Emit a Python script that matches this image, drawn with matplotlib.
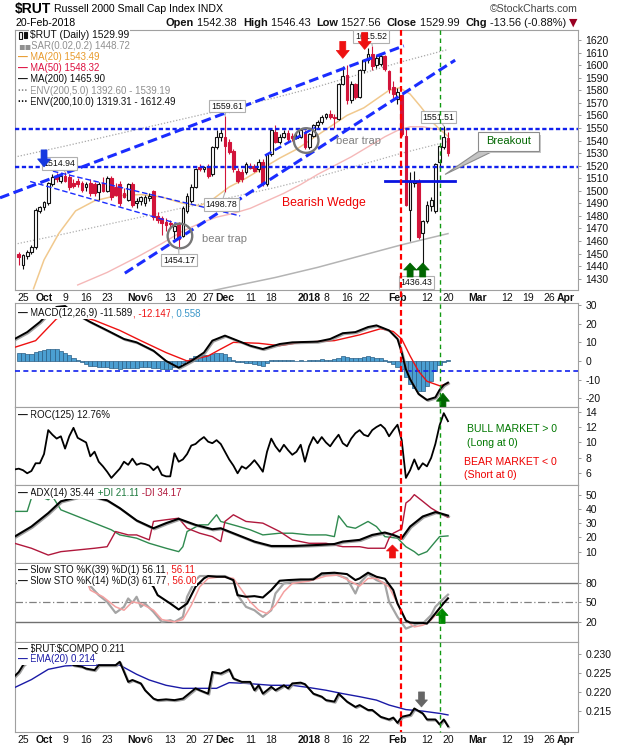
import matplotlib
matplotlib.use("Agg")
import numpy as np
import matplotlib.pyplot as plt
import matplotlib.transforms as mtransforms
import matplotlib.patheffects as pe
from matplotlib.patches import Rectangle, Polygon, Circle
from matplotlib.text import Annotation
from matplotlib.lines import Line2D

plt.rcParams['font.family'] = ['Liberation Sans', 'DejaVu Sans']

# ---------------- data (x = trading-day index, 0 = 25-Sep-2017) ----------------
opens = [1449.5, 1441, 1448, 1451, 1455, 1484, 1487, 1490, 1505, 1512, 1508, 1512, 1511, 1506, 1508, 1506,
         1503, 1506, 1505, 1499, 1506, 1500, 1510, 1503, 1505, 1498, 1493, 1505, 1490, 1492, 1490, 1494,
         1500, 1480, 1478, 1475, 1474, 1468, 1474, 1464, 1484, 1492, 1503, 1519, 1517, 1519, 1513, 1535,
         1543, 1543, 1539, 1532, 1516, 1515, 1515, 1520, 1520, 1517, 1523, 1505, 1529, 1547, 1539, 1543,
         1546, 1544, 1542, 1543, 1546, 1535, 1544, 1552, 1555, 1559, 1561, 1559, 1557, 1585, 1592, 1572,
         1585, 1575, 1596, 1604, 1609, 1600, 1601, 1607, 1595, 1583, 1573, 1576, 1544, 1485, 1506, 1507,
         1466, 1476, 1488, 1484, 1523, 1535, 1542.38]
highs = [1451, 1450, 1453, 1457, 1486, 1488, 1492, 1507, 1513, 1514, 1513, 1514.94, 1513, 1509, 1510, 1508,
         1507, 1509, 1507, 1507, 1511, 1512, 1512, 1506, 1508, 1502, 1506, 1507, 1494, 1496, 1497, 1498,
         1501, 1483, 1480, 1478, 1477, 1474, 1475, 1488, 1498, 1505, 1518, 1521, 1520, 1521, 1536, 1548,
         1549, 1559.61, 1541, 1533, 1518, 1517, 1523, 1522, 1521, 1525, 1525, 1530, 1550, 1552, 1545, 1548,
         1548, 1546, 1546, 1549, 1548, 1546, 1553, 1556, 1560, 1562, 1564, 1561, 1586, 1599, 1600, 1587,
         1586, 1597, 1605, 1614, 1615.52, 1608, 1609, 1608, 1596, 1587, 1582, 1577, 1549, 1515, 1516, 1509,
         1477, 1492, 1495, 1522, 1537, 1551.51, 1546.43]
lows = [1441, 1438, 1446, 1450, 1454, 1482, 1485, 1489, 1504, 1507, 1506, 1507, 1501, 1502, 1503, 1499,
        1500, 1496, 1496, 1493, 1499, 1499, 1493, 1496, 1488, 1494, 1492, 1487, 1486, 1489, 1488, 1492,
        1477, 1474, 1465, 1468, 1470, 1462, 1454.17, 1463, 1482, 1490, 1502, 1516, 1515, 1510, 1512, 1533,
        1540, 1498.78, 1529, 1515, 1506, 1507, 1513, 1517, 1515, 1515, 1504, 1504, 1528, 1538, 1537, 1542,
        1539, 1540, 1541, 1542, 1533, 1533, 1543, 1550, 1553, 1557, 1557, 1550, 1556, 1584, 1569, 1570,
        1573, 1574, 1594, 1602, 1596, 1598, 1599, 1595, 1578, 1574, 1569, 1544, 1488, 1460, 1503, 1462,
        1436.43, 1474, 1484, 1482, 1519, 1533, 1527.56]
closes = [1447.5, 1449, 1451, 1455, 1485, 1487, 1491, 1506, 1511, 1509, 1512, 1508, 1503, 1504, 1505, 1501,
          1505, 1498, 1498, 1505, 1500, 1510, 1495, 1497, 1490, 1495, 1505, 1489, 1492, 1495, 1495, 1496,
          1479, 1477, 1474, 1473, 1473.5, 1472, 1462, 1486, 1496, 1503, 1517, 1517.5, 1519, 1512, 1535, 1543,
          1546, 1536, 1531, 1517, 1508, 1509, 1521, 1518, 1516, 1523, 1505, 1529, 1548, 1539, 1543, 1546,
          1541, 1542, 1544, 1548, 1535, 1545, 1552, 1555, 1559, 1561, 1559, 1558, 1585, 1591, 1572, 1585,
          1575, 1596, 1604, 1609, 1599, 1606, 1607, 1597, 1581, 1577, 1579, 1545, 1489, 1507, 1508, 1463,
          1476, 1489, 1493, 1521, 1536, 1543, 1529.99]
first_day = -1

ma20_x = [2.5, 5, 8.5, 12.5, 17, 22, 28, 33, 38, 42, 45, 49, 53, 57, 61, 65, 69, 73, 77, 81, 84, 87, 89.5, 92, 94.5, 97.5, 99, 101]
ma20_y = [1422, 1445, 1466, 1484, 1492, 1496, 1497, 1495, 1490, 1488, 1493, 1503, 1510, 1518, 1526, 1533, 1542, 1551,
          1560, 1566, 1573, 1580, 1582, 1577, 1567, 1554, 1549, 1543.49]
ma50_x = [13, 20, 27, 33, 38, 42, 46, 50, 54, 58, 62, 66, 70, 74, 78, 82, 86, 89, 92, 95, 98, 101]
ma50_y = [1425, 1435, 1447, 1458, 1468, 1474, 1479, 1482, 1486, 1492, 1498, 1505, 1513, 1520, 1527, 1535, 1543,
          1548, 1551, 1551, 1549, 1548.32]
ma200_x = [-2, 10, 20, 30, 40, 50, 60, 70, 80, 90, 101]
ma200_y = [1388, 1396, 1403, 1410, 1417, 1424, 1431, 1439, 1448, 1457, 1465.9]
env5_up = [1457.4, 1465.8, 1473.2, 1480.5, 1487.9, 1495.2, 1502.6, 1511.0, 1520.4, 1529.9, 1539.19]
env10_up = [1526.8, 1535.6, 1543.3, 1551.0, 1558.7, 1566.4, 1574.1, 1582.9, 1592.8, 1602.7, 1612.49]

macd_x = [-2, 1, 4, 6, 8, 10, 12, 16, 20, 24, 27, 31, 34, 37, 40, 43, 45, 48, 51, 54, 57, 61, 64, 70, 73, 76,
          79, 82, 84, 87, 89, 90, 91, 92, 94, 96, 98, 99, 100, 101]
macd_y = [11.8, 15.5, 20.9, 25.5, 29.0, 29.5, 26.0, 20.9, 16.4, 11.8, 10.0, 5.5, 0.0, -3.6, 0.0, 4.5, 10.9, 13.6,
          10.9, 8.2, 6.4, 9.1, 10.0, 10.4, 11.8, 14.9, 15.5, 18.2, 19.1, 16.4, 11.8, 4.5, -4.5, -9.8, -17.7,
          -20.9, -19.5, -15.5, -12.9, -11.589]
sig_x = [-2, 3, 8, 12, 17, 23, 28, 34, 39, 44, 47, 50, 56, 61, 66, 74, 80, 85, 88, 90, 92, 94, 96, 99, 100, 101]
sig_y = [7.3, 10.9, 22.7, 24.9, 21.8, 16.4, 10.9, 4.5, 0.0, 2.7, 6.4, 10.0, 9.5, 8.2, 10.0, 10.9, 14.0, 17.3,
         15.8, 11.8, 2.7, -5.5, -10.9, -13.3, -12.8, -12.147]
hist = [4.5, 4.3, 4.0, 3.8, 5.0, 5.5, 6.0, 6.5, 6.6, 6.3, 5.5, 4.5, 3.0, 1.5, 0.5, -0.5, -1.5, -2.5, -2.8, -3.0,
        -3.2, -3.5, -3.8, -4.0, -4.2, -4.0, -3.8, -4.0, -3.8, -3.5, -3.5, -3.2, -3.8, -4.0, -4.2, -4.3, -4.2,
        -3.5, -3.0, -1.0, 0.5, 1.5, 2.5, 3.0, 3.2, 3.0, 3.8, 4.3, 4.5, 3.5, 2.0, 0.5, -0.5, -0.8, -1.0, -1.2,
        -1.5, -2.0, -2.7, -1.2, 0.3, 0.5, 0.5, 0.7, 0.5, 0.3, 0.2, 0.5, 0.2, 0.4, 0.6, 0.6, 0.8, 0.7, 0.5, 0.8,
        1.8, 2.5, 2.0, 1.8, 1.5, 1.8, 2.2, 2.5, 2.0, 1.8, 1.5, 0.5, -0.5, -1.5, -3.0, -4.5, -8.5, -12.5, -14.5,
        -16.3, -16.3, -13.6, -10.9, -5.5, -2.0, -0.3, 0.558]
macd_trigger = -5.4

roc = [6.5, 6.6, 6.4, 6.0, 6.3, 7.3, 7.3, 8.5, 11.6, 11.0, 10.5, 10.8, 9.2, 10.8, 11.9, 10.6, 10.3, 10.0, 8.2,
       8.8, 7.5, 6.9, 6.2, 5.4, 6.0, 6.6, 7.5, 7.1, 7.9, 7.1, 7.3, 7.2, 7.0, 6.4, 6.9, 5.8, 5.6, 5.6, 8.6, 7.5,
       7.8, 8.5, 9.6, 9.8, 10.3, 10.7, 10.1, 9.9, 10.3, 9.8, 8.8, 7.8, 7.0, 6.0, 6.9, 6.6, 7.1, 7.7, 7.0, 6.2,
       8.8, 10.5, 9.5, 8.8, 9.7, 9.0, 8.4, 8.8, 9.7, 7.5, 9.5, 10.7, 9.9, 10.7, 10.0, 9.5, 10.3, 11.0, 9.9, 9.5,
       10.5, 11.2, 11.6, 11.0, 10.8, 11.6, 12.0, 12.3, 11.8, 10.8, 11.6, 12.3, 10.3, 5.4, 6.4, 7.8, 6.5, 7.3,
       6.9, 8.0, 9.8, 12.2, 13.8, 12.76]
roc_first = -2

adx_x = [-2, 2, 6, 9, 13, 17, 20, 23, 27, 31, 34, 37, 41, 45, 47, 51, 55, 59, 64, 70, 74, 76, 80, 83, 86, 88,
         90, 92, 95, 98, 99, 101]
adx_y = [20.6, 27.7, 37.2, 45.5, 48.5, 48.5, 46.2, 40.7, 32.0, 26.5, 30.1, 33.2, 28.9, 25.8, 26.5, 21.8, 17.1,
         14.0, 14.0, 14.7, 15.4, 17.1, 18.3, 21.8, 23.5, 21.8, 19.5, 27.7, 34.8, 37.9, 37.2, 35.44]
pdi_x = [-2, 1, 2, 5, 6, 7, 9, 13, 17, 21, 23, 27, 30, 34, 37, 38, 39, 42, 44, 45, 46, 47, 51, 54, 57, 61, 64,
         68, 72, 74, 75, 77, 79, 82, 84, 86, 89, 91, 93, 94, 96, 98, 99, 101]
pdi_y = [38.4, 38.4, 47.8, 47.8, 46.6, 49.0, 39.5, 34.8, 30.1, 25.4, 21.8, 19.5, 15.9, 12.4, 10.0, 13.5, 24.2,
         28.9, 28.9, 32.5, 36.0, 31.3, 28.0, 25.4, 21.8, 23.0, 23.0, 21.8, 21.8, 20.6, 35.3, 27.7, 26.5, 31.3,
         27.7, 20.6, 19.5, 13.5, 10.0, 7.6, 10.0, 17.1, 20.6, 21.11]
mdi_x = [-2, 2, 6, 9, 13, 17, 20, 22, 25, 27, 30, 31, 34, 37, 39, 42, 45, 47, 48, 50, 53, 57, 61, 64, 68, 72,
         76, 80, 82, 86, 87, 88, 89, 90, 91, 92, 93, 95, 97, 99, 101]
mdi_y = [15.9, 12.4, 7.6, 10.0, 11.2, 12.4, 13.5, 24.2, 21.8, 21.8, 18.3, 31.3, 32.5, 33.6, 26.5, 23.0, 20.6,
         17.1, 31.3, 36.0, 31.3, 30.1, 24.2, 18.3, 15.9, 15.9, 13.5, 13.5, 12.4, 12.4, 19.5, 23.0, 24.5, 26.0,
         44.3, 46.6, 50.2, 45.5, 40.7, 37.2, 34.17]

k39_x = [29, 31, 32, 35, 37, 39, 41, 43, 44, 46, 48, 50, 51, 53, 55, 57, 59, 61, 63, 66, 69, 71, 74, 77, 79, 80,
         82, 84, 86, 88, 89, 90, 91, 92, 93, 95, 96, 97, 98, 99, 100, 101]
k39_y = [88, 73.8, 61, 48.2, 39, 48.2, 73.8, 86.7, 90.3, 89.2, 89.2, 84.1, 61, 58.5, 59.5, 57.4, 68.7, 83.1,
         84.1, 85.1, 85.1, 94.4, 95.4, 93.3, 84.1, 86.7, 95.4, 89.2, 86.2, 68.7, 48.2, 35.4, 22, 19, 18.5, 18.5,
         17.4, 25, 33, 41, 49, 56.11]
k14_x = [15, 16, 18, 20, 22, 24, 25, 26, 27, 28, 29, 31, 33, 35, 36, 38, 39, 41, 42, 44, 48, 50, 51, 53, 55, 57,
         59, 60, 62, 64, 68, 71, 74, 77, 79, 80, 82, 84, 86, 87, 89, 91, 92, 94, 95, 97, 98, 100, 101]
k14_y = [90, 74.9, 61, 50.8, 33.8, 43.1, 55.9, 49.2, 58.5, 43.1, 48.2, 35.4, 20, 22.6, 20, 27.7, 58.5, 84.1,
         90.3, 90.3, 90.3, 84.1, 61, 43.1, 37.9, 27.7, 37.9, 63.6, 79, 81.5, 84.1, 91.8, 93.3, 86.7, 63.6, 79,
         93.3, 84.1, 79, 50.8, 27.7, 9.7, 12.3, 17.4, 17.4, 30.3, 43.1, 55.9, 61.77]
d3_x = [15, 16, 19, 22, 24, 26, 28, 31, 33, 36, 38, 40, 42, 44, 47, 50, 52, 54, 56, 58, 60, 62, 64, 68, 72, 75,
        78, 80, 82, 84, 87, 89, 91, 93, 95, 96, 97, 98, 99, 100, 101]
d3_y = [85, 68.7, 58.5, 43.1, 37.9, 50.8, 48.2, 38, 23.6, 20, 23.6, 45.6, 73.8, 86.7, 89.2, 86.7, 68.7, 50.8,
        38, 32.8, 45.6, 66.2, 79, 82.6, 90.3, 91.8, 81.5, 74.9, 86.7, 86.7, 73.8, 48.2, 22.6, 12.3, 14.9, 18,
        23, 30, 40, 49, 56.0]

ratio_x = [-2, -1, 0, 2, 6, 10, 12, 14, 15, 17, 18, 19, 22, 23, 25, 26, 28, 29, 31, 32, 34, 36, 38, 39, 41, 42,
           44, 45, 47, 49, 50, 52, 54, 55, 56, 57, 59, 60, 62, 63, 64, 66, 67, 69, 71, 72, 74, 75, 77, 79, 80,
           82, 83, 85, 87, 88, 89, 90, 92, 93, 95, 96, 98, 99, 100, 101]
ratio_y = [.2242, .2253, .2271, .2290, .2295, .2288, .2271, .2267, .2262, .2258, .2271, .2271, .2271, .2280,
           .2227, .2232, .2223, .2205, .2183, .2179, .2181, .2179, .2183, .2192, .2210, .2205, .2196, .2253,
           .2249, .2260, .2236, .2227, .2227, .2205, .2218, .2196, .2214, .2205, .2218, .2210, .2223, .2225,
           .2221, .2196, .2188, .2179, .2175, .2196, .2175, .2161, .2166, .2153, .2153, .2135, .2128, .2133,
           .2119, .2135, .2140, .2157, .2144, .2128, .2128, .2115, .2128, .2110]
ema_x = [-2, 2, 6, 10, 14, 19, 23, 27, 30, 34, 38, 42, 46, 49, 53, 59, 64, 68, 72, 76, 80, 84, 87, 91, 95, 99, 101]
ema_y = [.2212, .2233, .2260, .2269, .2271, .2271, .2271, .2247, .2232, .2218, .2210, .2210, .2210, .2225, .2223,
         .2218, .2218, .2212, .2205, .2196, .2188, .2179, .2166, .2154, .2150, .2144, .2140]

tick_pos = [0, 5, 10, 15, 20, 27, 30, 35, 40, 44, 48, 54, 59, 68, 72, 77, 81, 89, 96, 101, 108, 115, 120, 125, 129]
tick_lab = ["25", "Oct", "9", "16", "23", "Nov", "6", "13", "20", "27", "Dec", "11", "18", "2018", "8", "16",
            "22", "Feb", "12", "20", "Mar", "12", "19", "26", "Apr"]
month_labels = ["Oct", "Nov", "Dec", "2018", "Feb", "Mar", "Apr"]

red_day, green_day = 89.8, 99.0
res_level, sup_level, neck_level = 1549, 1519, 1508

# ---------------- figure ----------------
W, H = 620, 750
fig = plt.figure(figsize=(W / 100, H / 100), dpi=100)
fig.patch.set_facecolor('white')
XL = (-1.9, 131.9)
BLUE = '#1a2cff'
RED_C = '#d2143a'


def make_ax(top, bottom, ylim, yticks, fmt='%d'):
    ax = fig.add_axes([15 / W, 1 - bottom / H, 563 / W, (bottom - top) / H])
    ax.set_xlim(*XL)
    ax.set_ylim(*ylim)
    ax.yaxis.tick_right()
    ax.set_yticks(yticks)
    ax.set_yticklabels([fmt % v for v in yticks])
    ax.tick_params(axis='y', length=2.5, width=0.6, color='#888888', pad=3, labelsize=7.5,
                   labelcolor='#111111')
    ax.set_xticks(tick_pos)
    ax.set_xticklabels([])
    ax.tick_params(axis='x', length=0)
    for s in ax.spines.values():
        s.set_color('#a0a0a0')
        s.set_linewidth(0.8)
    return ax


def set_dates(ax):
    ax.set_xticklabels(tick_lab)
    ax.tick_params(axis='x', labelsize=7.5, pad=2, labelcolor='#111111')
    for t, lab in zip(ax.get_xticklabels(), tick_lab):
        t.set_fontweight('bold' if lab in month_labels else 'normal')


def chain(x, y, parts, fs=7.0, bg=None, z=30):
    prev = None
    for p in parts:
        s, col = p[0], p[1]
        wt = p[2] if len(p) > 2 else 'normal'
        kw = dict(fontsize=fs, color=col, fontweight=wt, zorder=z)
        if len(p) > 3:
            kw['family'] = p[3]
        if bg:
            kw['bbox'] = dict(boxstyle='square,pad=0.06', fc=bg, ec='none')
        if prev is None:
            prev = fig.text(x / W, 1 - y / H, s, ha='left', va='center', **kw)
        else:
            a = Annotation(s, xy=(1, 0), xycoords=prev, ha='left', va='bottom', **kw)
            fig.add_artist(a)
            prev = a
    return prev


def block_arrow(ax, x, y, up, color, w=13, h=17, shaft=6, head=8):
    s = 1 if up else -1
    v = np.array([(0, 0), (-w / 2, -s * head), (-shaft / 2, -s * head), (-shaft / 2, -s * h),
                  (shaft / 2, -s * h), (shaft / 2, -s * head), (w / 2, -s * head)]) / 100.0
    tr = fig.dpi_scale_trans + mtransforms.ScaledTranslation(x, y, ax.transData)
    ax.add_patch(Polygon(v, closed=True, fc=color, ec=color, lw=0.5, transform=tr, zorder=12, clip_on=False))


def circle(ax, x, y, r_px, color='#777777'):
    tr = fig.dpi_scale_trans + mtransforms.ScaledTranslation(x, y, ax.transData)
    ax.add_patch(Circle((0, 0), r_px / 100.0, fill=False, ec=color, lw=1.7, transform=tr, zorder=7))


def price_box(ax, x, y, txt, px, py):
    ax.annotate(txt, xy=(px, py), xytext=(x, y), fontsize=6.3, ha='center', va='center', color='#111111',
                bbox=dict(boxstyle='square,pad=0.2', fc='white', ec='#b0b0b0', lw=0.8),
                arrowprops=dict(arrowstyle='-', color='#b0b0b0', lw=0.8, shrinkA=0, shrinkB=0), zorder=9)


shadow = [pe.SimpleLineShadow(offset=(0.8, -0.8), shadow_color='#8a8a8a', alpha=0.8), pe.Normal()]

# ---------------- main price panel ----------------
axm = make_ax(30, 290, (1421, 1628), list(range(1430, 1621, 10)))
set_dates(axm)
days = np.arange(first_day, first_day + len(closes))

axm.plot(ma200_x, env10_up, color='#a8a8a8', lw=0.9, ls=(0, (1, 1.5)), zorder=2)
axm.plot(ma200_x, env5_up, color='#b0b0b0', lw=0.9, ls=(0, (1, 1.5)), zorder=2)
axm.plot(ma200_x, ma200_y, color='#b4b4b4', lw=1.1, zorder=2)
axm.plot(ma50_x, ma50_y, color='#f5b8b8', lw=1.0, zorder=2)
axm.plot(ma20_x, ma20_y, color='#f1c98e', lw=1.1, zorder=2)

for d, o, h, l, c in zip(days, opens, highs, lows, closes):
    up = c >= o
    col = '#111111' if up else RED_C
    axm.vlines(d, l, h, color=col, lw=0.8, zorder=3)
    lo, hi = min(o, c), max(o, c)
    axm.add_patch(Rectangle((d - 0.33, lo), 0.66, max(hi - lo, 0.5), fc='white' if up else RED_C,
                            ec=col, lw=0.8, zorder=4))

# trend lines
axm.axhline(res_level, color='#1020ee', lw=1.7, dashes=(1.8, 1.1), zorder=5)
axm.axhline(sup_level, color='#1020ee', lw=1.7, dashes=(1.8, 1.1), zorder=5)
axm.plot([-5.46, 90.5], [1494.4, 1615.4], color=BLUE, lw=2.2, dashes=(3.2, 1.5), zorder=5, clip_on=False)
axm.plot([24.2, 102.7], [1434.4, 1604], color=BLUE, lw=2.2, dashes=(3.2, 1.5), zorder=5)
axm.plot([57.5, 69.4], [1528, 1550.4], color=BLUE, lw=1.8, dashes=(3, 1.5), zorder=5)
axm.plot([7.1, 51.6], [1515.6, 1480], color=BLUE, lw=1.0, dashes=(4, 2), zorder=5)
axm.plot([1.7, 36.8], [1507.4, 1473.8], color=BLUE, lw=1.0, dashes=(4, 2), zorder=5)
axm.plot([86.0, 102.7], [neck_level, neck_level], color='#0a14e0', lw=2.0, zorder=5)

circle(axm, 37.3, 1464, 12.3)
circle(axm, 67.3, 1540, 12.3)
axm.text(42.6, 1461.6, 'bear trap', fontsize=8, color='#808080', va='center', ha='left', zorder=6)
axm.text(74.3, 1539.5, 'bear trap', fontsize=8, color='#808080', va='center', ha='left', zorder=6)
axm.text(71.5, 1490.6, 'Bearish Wedge', fontsize=8.8, color='#ee0000', va='center', ha='center', zorder=6)

price_box(axm, 8.7, 1521.6, '1514.94', 10, 1514.94)
price_box(axm, 48.5, 1567.4, '1559.61', 48, 1559.61)
price_box(axm, 47.1, 1489.2, '1498.78', 48, 1498.78)
price_box(axm, 37.1, 1444.8, '1454.17', 37, 1454.17)
price_box(axm, 82.7, 1623.0, '1615.52', 83, 1615.52)
price_box(axm, 98.7, 1558.6, '1551.51', 100, 1551.51)
price_box(axm, 93.5, 1427.0, '1436.43', 95, 1436.43)

block_arrow(axm, 5, 1519, False, '#1438e0', w=13, h=17, shaft=6, head=8)
block_arrow(axm, 76, 1605.4, False, '#ee1111', w=13, h=17, shaft=6, head=8)
block_arrow(axm, 81.2, 1612.5, False, '#ee1111', w=13, h=17, shaft=6, head=8)
block_arrow(axm, 92, 1442.5, True, '#006600', w=13, h=14, shaft=6, head=7)
block_arrow(axm, 95, 1442.5, True, '#006600', w=13, h=14, shaft=6, head=7)

# Breakout callout (box drawn as patches, text on top)
bx0, bx1, by0, by1 = 108.2, 122.6, 1532.0, 1546.6
axm.add_patch(Polygon([(100.3, 1513), (108.6, by0), (112.0, by0)], closed=True, fc='#c4c4c4',
                      ec='#8c8c8c', lw=0.8, zorder=8))
axm.add_patch(Rectangle((bx0 + 0.55, by0 - 2.0), bx1 - bx0, by1 - by0, fc='#c8c8c8', ec='none', zorder=8))
axm.add_patch(Rectangle((bx0, by0), bx1 - bx0, by1 - by0, fc='white', ec='#8c8c8c', lw=0.8, zorder=9))
axm.text((bx0 + bx1) / 2, (by0 + by1) / 2, 'Breakout', fontsize=8, color='#006600', ha='center',
         va='center', zorder=10)

# ---------------- MACD ----------------
axd = make_ax(303, 407, (-24.7, 31.1), [30, 20, 10, 0, -10, -20])
hdays = np.arange(first_day, first_day + len(hist))
axd.bar(hdays, hist, width=1.0, color='#4b9fd2', edgecolor='#2a5f85', lw=0.5, zorder=2)
axd.axhline(macd_trigger, color='#1020ee', lw=1.2, dashes=(3, 2), zorder=3)
axd.plot(sig_x, sig_y, color='#ee1111', lw=1.0, zorder=4)
axd.plot(macd_x, macd_y, color='black', lw=1.4, zorder=5, path_effects=shadow)
block_arrow(axd, 99.8, -17.3, True, '#006600', w=13, h=16, shaft=6, head=8)

# ---------------- ROC ----------------
axr = make_ax(407, 485, (4.48, 14.6), [14, 12, 10, 8, 6])
rdays = np.arange(roc_first, roc_first + len(roc))
axr.plot(rdays, roc, color='black', lw=1.3, zorder=4)

# ---------------- ADX ----------------
axa = make_ax(485, 563, (2, 57), [50, 40, 30, 20, 10])
axa.plot(pdi_x, pdi_y, color='#2f8a4f', lw=1.0, zorder=3)
axa.plot(mdi_x, mdi_y, color='#b0183c', lw=1.0, zorder=3)
axa.plot(adx_x, adx_y, color='black', lw=1.5, zorder=4, path_effects=shadow)
block_arrow(axa, 87.8, 14.7, True, '#ee1111', w=12, h=13, shaft=6, head=6)

# ---------------- Slow Stochastics ----------------
axs = make_ax(563, 642, (-10.8, 110.3), [80, 50, 20])
axs.axhline(80, color='#707070', lw=1.0, zorder=1)
axs.axhline(20, color='#707070', lw=1.0, zorder=1)
axs.axhline(50, color='#808080', lw=0.9, ls=(0, (6, 2, 1, 2)), zorder=1)
axs.plot(k14_x, k14_y, color='#a4a4a4', lw=1.6, zorder=3)
axs.plot(d3_x, d3_y, color='#f4a0a0', lw=1.1, zorder=3)
axs.plot(k39_x, k39_y, color='black', lw=1.5, zorder=4)
block_arrow(axs, 99.6, 40.5, True, '#008800', w=12, h=15, shaft=6, head=7)

# ---------------- $RUT:$COMPQ ----------------
axq = make_ax(642, 732, (0.2095, 0.2332), [0.230, 0.225, 0.220, 0.215], fmt='%.3f')
set_dates(axq)
axq.plot(ema_x, ema_y, color='#1a1aa6', lw=1.0, zorder=3)
axq.plot(ratio_x, ratio_y, color='black', lw=1.4, zorder=4, path_effects=shadow)
block_arrow(axq, 94.7, 0.2161, False, '#666666', w=12, h=15, shaft=6, head=7)

# vertical marker lines spanning all panels
for day, col, lw, dsh in [(red_day, '#ff0000', 1.6, (2.6, 1.6)), (green_day, '#119911', 1.0, (3.2, 2.6))]:
    xf = axm.transData.transform((day, 1500))[0] / W
    fig.add_artist(Line2D([xf, xf], [1 - 30 / H, 1 - 732 / H], transform=fig.transFigure, color=col,
                          lw=lw, dashes=dsh, zorder=2.5))

# ---------------- texts ----------------
fig.text(15 / W, 1 - 9 / H, '\\$RUT', fontsize=10, fontweight='bold', va='center', ha='left')
fig.text(54 / W, 1 - 9.5 / H, 'Russell 2000 Small Cap Index INDX', fontsize=7.6, va='center', ha='left')
fig.text(578 / W, 1 - 9.5 / H, '©StockCharts.com', fontsize=7.6, va='center', ha='right', color='#444444')
fig.text(16 / W, 1 - 22.5 / H, '20-Feb-2018', fontsize=7.6, va='center', ha='left')
chain(166, 22.5, [('Open', '#111111', 'bold'), (' 1542.38  ', '#111111'), ('High', '#111111', 'bold'),
                  (' 1546.43  ', '#111111'), ('Low', '#111111', 'bold'), (' 1527.56  ', '#111111'),
                  ('Close', '#111111', 'bold'), (' 1529.99  ', '#111111'), ('Chg', '#111111', 'bold'),
                  (' -13.56 (-0.88%) ', '#111111'), ('▼', '#990022', 'normal', 'DejaVu Sans')], fs=7.9)

# main legend
fig.add_artist(Rectangle((19, H - 39), 3, 7, transform=mtransforms.IdentityTransform(), fc='white',
                         ec='#111111', lw=0.8, zorder=30))
fig.add_artist(Rectangle((24, H - 38), 3, 6, transform=mtransforms.IdentityTransform(), fc='#111111',
                         ec='#111111', lw=0.8, zorder=30))
chain(30, 34.5, [('\\$RUT (Daily) 1529.99', '#111111')], fs=7.4, bg='white')
chain(18, 45.7, [('▪▪', '#909090', 'normal', 'DejaVu Sans'), ('SAR(0.02,0.2) 1448.72', '#909090')], bg='white')
chain(18, 56.9, [('— ', '#e89a2c', 'bold'), ('MA(20) 1543.49', '#e89a2c')], bg='white')
chain(18, 68.1, [('— ', '#dd1040', 'bold'), ('MA(50) 1548.32', '#dd1040')], bg='white')
chain(18, 79.3, [('— ', '#111111', 'bold'), ('MA(200) 1465.90', '#111111')], bg='white')
chain(18, 90.5, [('··· ', '#909090', 'bold'), ('ENV(200,5.0) 1392.60 - 1539.19', '#909090')], bg='white')
chain(18, 101.7, [('··· ', '#111111', 'bold'), ('ENV(200,10.0) 1319.31 - 1612.49', '#111111')], bg='white')

# panel legends
chain(18, 313, [('— ', '#111111', 'bold'), ('MACD(12,26,9) -11.589', '#111111'), (', -12.147', '#ee1111'),
                (', 0.558', '#3a96c8')], bg='white')
chain(18, 415, [('— ', '#111111', 'bold'), ('ROC(125) 12.76%', '#111111')], bg='white')
chain(18, 493, [('— ', '#111111', 'bold'), ('ADX(14) 35.44', '#111111'), (' +DI 21.11', '#1f7a3f'),
                (' -DI 34.17', '#b0183c')], bg='white')
chain(18, 570, [('— ', '#111111', 'bold'), ('Slow STO %K(39) %D(1) 56.11', '#111111'), (', 56.11', '#ee1111')],
      bg='white')
chain(18, 580.5, [('— ', '#111111', 'bold'), ('Slow STO %K(14) %D(3) 61.77', '#111111'), (', 56.00', '#ee1111')],
      bg='white')
chain(18, 648.5, [('— ', '#111111', 'bold'), ('\\$RUT:\\$COMPQ 0.211', '#111111')], bg='white')
chain(18, 659.5, [('— ', '#1a1aa6', 'bold'), ('EMA(20) 0.214', '#1a1aa6')], bg='white')

# ROC notes
fig.text(467 / W, 1 - 429 / H, 'BULL MARKET > 0', fontsize=7.6, color='#007700', va='center', ha='left')
fig.text(467 / W, 1 - 442.5 / H, '(Long at 0)', fontsize=7.6, color='#007700', va='center', ha='left')
fig.text(464 / W, 1 - 462 / H, 'BEAR MARKET < 0', fontsize=7.6, color='#ee0000', va='center', ha='left')
fig.text(464 / W, 1 - 475 / H, '(Short at 0)', fontsize=7.6, color='#ee0000', va='center', ha='left')

fig.savefig('out.png', dpi=100, facecolor='white')
